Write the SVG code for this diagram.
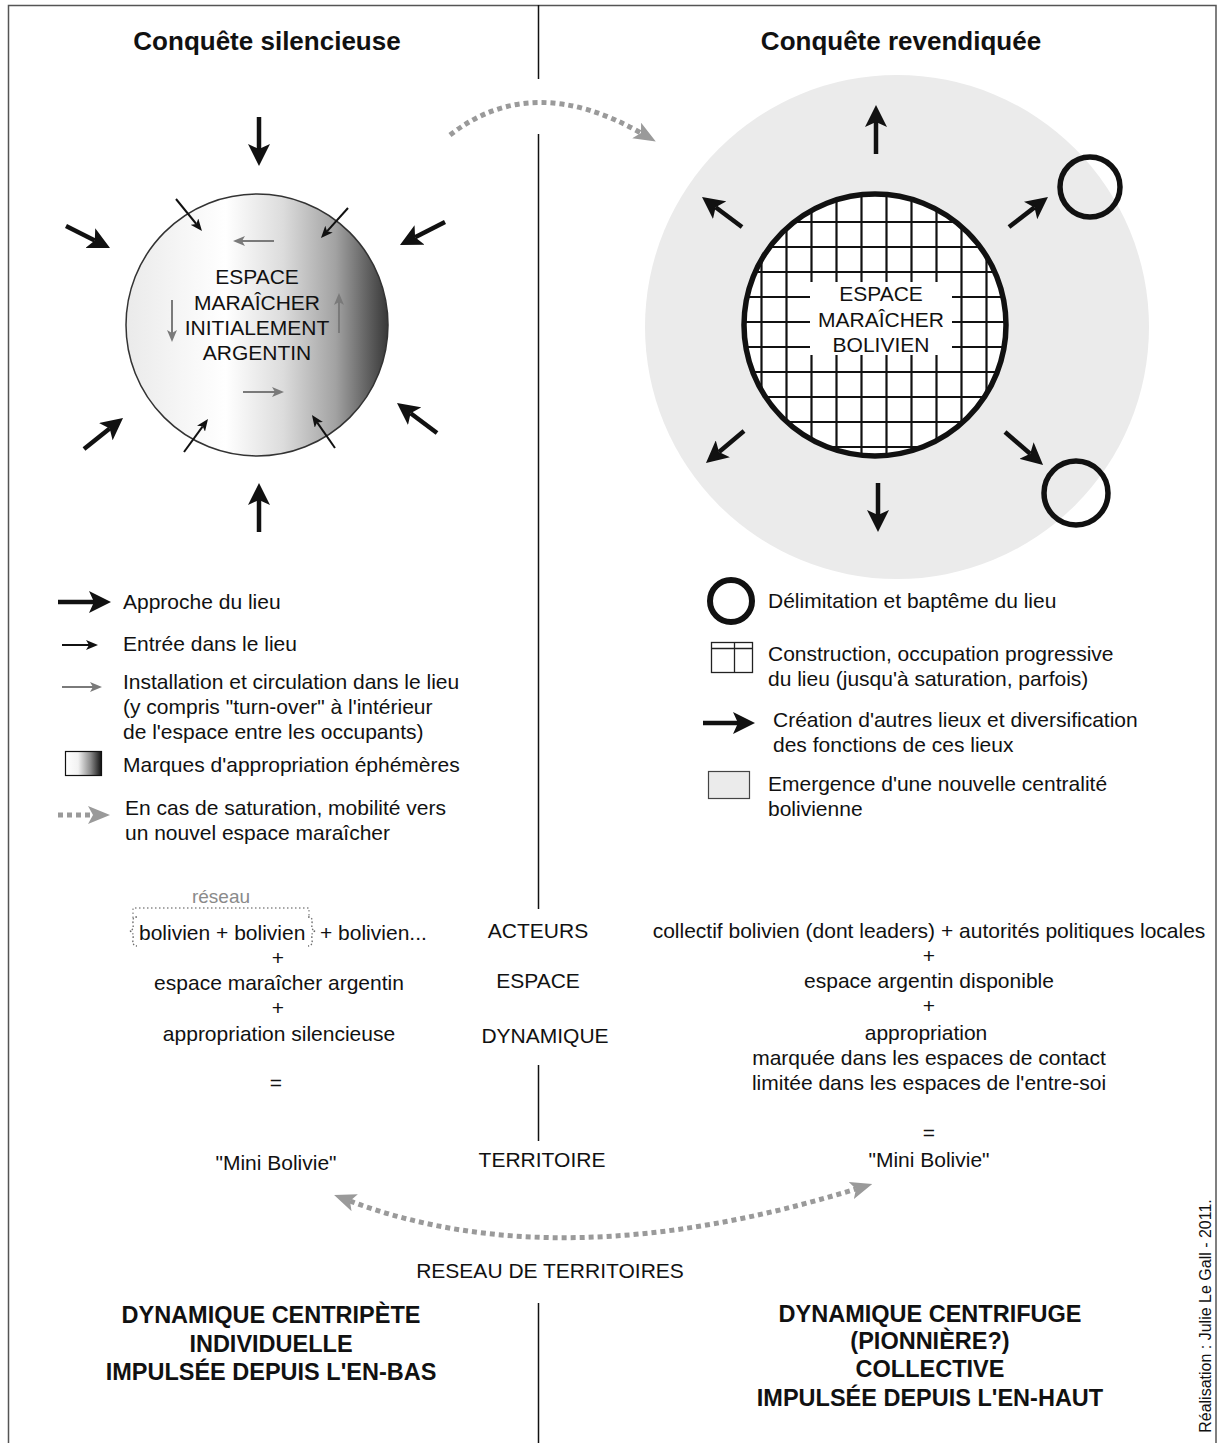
<svg xmlns="http://www.w3.org/2000/svg" width="1219" height="1443" viewBox="0 0 1219 1443">
<defs>
<style>
text{font-family:"Liberation Sans",Arial,sans-serif;fill:#111}
.t21{font-size:21px}
.c{text-anchor:middle}
.title{font-size:26px;font-weight:bold}
.bold{font-size:23.5px;font-weight:bold}
.thick{stroke:#111;stroke-width:4.5;fill:none;marker-end:url(#mBig)}
.thin{stroke:#111;stroke-width:2;fill:none;marker-end:url(#mThin)}
.gray{stroke:#7a7a7a;stroke-width:2;fill:none;marker-end:url(#mGray)}
.dotted{stroke:#9a9a9a;stroke-width:5;stroke-dasharray:5 4;fill:none}
.grid{stroke:#111;stroke-width:2.2}
.frame{stroke:#555;stroke-width:1.5;fill:none}
.ring{fill:none;stroke:#111;stroke-width:5.5}
</style>
<marker id="mBig" markerUnits="userSpaceOnUse" viewBox="0 0 22 22" markerWidth="22" markerHeight="22" refX="5" refY="11" orient="auto"><path d="M0,0 L22,11 L0,22 L5,11 z" fill="#111"/></marker>
<marker id="mThin" markerUnits="userSpaceOnUse" viewBox="0 0 12 10" markerWidth="12" markerHeight="10" refX="3" refY="5" orient="auto"><path d="M0,0 L12,5 L0,10 L3,5 z" fill="#111"/></marker>
<marker id="mGray" markerUnits="userSpaceOnUse" viewBox="0 0 12 10" markerWidth="12" markerHeight="10" refX="3" refY="5" orient="auto"><path d="M0,0 L12,5 L0,10 L3,5 z" fill="#7a7a7a"/></marker>
<marker id="mDot" markerUnits="userSpaceOnUse" viewBox="0 0 22 18" markerWidth="22" markerHeight="18" refX="5" refY="9" orient="auto-start-reverse"><path d="M0,0 L22,9 L0,18 L5,9 z" fill="#9a9a9a"/></marker>
<linearGradient id="gSilent" x1="0" y1="0" x2="1" y2="0">
<stop offset="0" stop-color="#eaeaea"/><stop offset="0.38" stop-color="#ffffff"/><stop offset="0.6" stop-color="#dcdcdc"/><stop offset="0.8" stop-color="#a2a2a2"/><stop offset="1" stop-color="#383838"/>
</linearGradient>
<linearGradient id="gSwatch" x1="0" y1="0" x2="1" y2="0">
<stop offset="0" stop-color="#ffffff"/><stop offset="0.35" stop-color="#f2f2f2"/><stop offset="0.7" stop-color="#8a8a8a"/><stop offset="1" stop-color="#111"/>
</linearGradient>
<clipPath id="gridClip"><circle cx="875" cy="325" r="131"/></clipPath>
</defs>

<rect x="0" y="0" width="1219" height="1443" fill="#fff"/>

<g id="frame">
<path class="frame" d="M8.5,1443 L8.5,5.5 L1216,5.5 L1216,1443"/>
<path stroke="#111" stroke-width="1.5" fill="none" d="M538.5,5 V79 M538.5,134 V909 M538.5,1065 V1141 M538.5,1303 V1443"/>
</g>

<g id="titles">
<text class="title c" x="267" y="50">Conquête silencieuse</text>
<text class="title c" x="901" y="50">Conquête revendiquée</text>
</g>

<g id="centrality">
<circle cx="897" cy="327" r="252" fill="#ebebeb"/>
</g>

<g id="silent-space">
<circle cx="257" cy="325" r="131" fill="url(#gSilent)" stroke="#333" stroke-width="1.5"/>
<text class="t21 c" x="257" y="284">ESPACE</text>
<text class="t21 c" x="257" y="310">MARAÎCHER</text>
<text class="t21 c" x="257" y="335">INITIALEMENT</text>
<text class="t21 c" x="257" y="360">ARGENTIN</text>
</g>

<g id="bolivian-space">
<circle cx="875" cy="325" r="131" fill="#fff"/>
<g clip-path="url(#gridClip)" class="grid">
<path d="M761.5,190 V462 M786.5,190 V462 M811.5,190 V462 M836.5,190 V462 M861.5,190 V462 M886.5,190 V462 M911.5,190 V462 M936.5,190 V462 M961.5,190 V462 M986.5,190 V462"/>
<path d="M740,222 H1010 M740,247 H1010 M740,272 H1010 M740,297 H1010 M740,322 H1010 M740,347 H1010 M740,372 H1010 M740,397 H1010 M740,422 H1010 M740,447 H1010"/>
</g>
<rect x="810" y="282" width="142" height="73" fill="#fff"/>
<circle class="ring" cx="875" cy="325" r="131"/>
<text class="t21 c" x="881" y="301">ESPACE</text>
<text class="t21 c" x="881" y="327">MARAÎCHER</text>
<text class="t21 c" x="881" y="352">BOLIVIEN</text>
</g>

<g id="place-1"><circle class="ring" cx="1090" cy="187" r="30"/></g>
<g id="place-2"><circle class="ring" cx="1076" cy="493" r="32"/></g>

<g id="connectors">
<!-- approach arrows -->
<line class="thick" x1="259" y1="117" x2="259" y2="149"/>
<line class="thick" x1="259" y1="532" x2="259" y2="500"/>
<line class="thick" x1="66" y1="226" x2="94.8" y2="240.4"/>
<line class="thick" x1="445" y1="222" x2="415.1" y2="237.3"/>
<line class="thick" x1="84" y1="449" x2="109.7" y2="428.6"/>
<line class="thick" x1="437" y1="433" x2="410.6" y2="413.2"/>
<!-- entry arrows -->
<line class="thin" x1="176" y1="199" x2="196.3" y2="224"/>
<line class="thin" x1="348" y1="208" x2="327" y2="231.3"/>
<line class="thin" x1="184" y1="452" x2="202.7" y2="426.3"/>
<line class="thin" x1="335" y1="448" x2="317.1" y2="422.4"/>
<!-- circulation arrows -->
<line class="gray" x1="274" y1="241" x2="242" y2="241"/>
<line class="gray" x1="172" y1="300" x2="172" y2="333"/>
<line class="gray" x1="339" y1="333" x2="339" y2="302"/>
<line class="gray" x1="243" y1="392" x2="275" y2="392"/>
<!-- creation arrows -->
<line class="thick" x1="876" y1="154" x2="876" y2="122"/>
<line class="thick" x1="878" y1="483" x2="878" y2="515"/>
<line class="thick" x1="742" y1="227" x2="715.6" y2="207.2"/>
<line class="thick" x1="1009" y1="227" x2="1034.5" y2="207.4"/>
<line class="thick" x1="744" y1="431" x2="719" y2="452"/>
<line class="thick" x1="1005" y1="432" x2="1030.2" y2="453.8"/>
<!-- mobility -->
<path class="dotted" marker-end="url(#mDot)" d="M450,135 Q532,71 641,133"/>
<path class="dotted" marker-start="url(#mDot)" marker-end="url(#mDot)" d="M350,1201 Q560,1280 856,1189"/>
</g>

<g id="legend-left">
<line class="thick" x1="58" y1="602" x2="94" y2="602"/>
<text class="t21" x="123" y="609">Approche du lieu</text>
<line class="thin" x1="62" y1="645" x2="89" y2="645"/>
<text class="t21" x="123" y="651">Entrée dans le lieu</text>
<line class="gray" x1="62" y1="687" x2="93" y2="687"/>
<text class="t21" x="123" y="689">Installation et circulation dans le lieu</text>
<text class="t21" x="123" y="714">(y compris "turn-over" à l'intérieur</text>
<text class="t21" x="123" y="739">de l'espace entre les occupants)</text>
<rect x="65.5" y="751.5" width="36" height="24" fill="url(#gSwatch)" stroke="#111" stroke-width="1.2"/>
<text class="t21" x="123" y="772">Marques d'appropriation éphémères</text>
<line class="dotted" marker-end="url(#mDot)" x1="58" y1="815" x2="93" y2="815"/>
<text class="t21" x="125" y="815">En cas de saturation, mobilité vers</text>
<text class="t21" x="125" y="840">un nouvel espace maraîcher</text>
</g>

<g id="legend-right">
<circle cx="731" cy="601" r="21" fill="none" stroke="#111" stroke-width="6"/>
<text class="t21" x="768" y="608">Délimitation et baptême du lieu</text>
<rect x="711.5" y="642.5" width="41" height="30" fill="#fff" stroke="#222" stroke-width="1.3"/>
<path d="M711.5,648.5 H752.5 M734.5,642.5 V672.5" stroke="#222" stroke-width="1.3" fill="none"/>
<text class="t21" x="768" y="661">Construction, occupation progressive</text>
<text class="t21" x="768" y="686">du lieu (jusqu'à saturation, parfois)</text>
<line class="thick" x1="703" y1="723" x2="738" y2="723"/>
<text class="t21" x="773" y="727">Création d'autres lieux et diversification</text>
<text class="t21" x="773" y="752">des fonctions de ces lieux</text>
<rect x="708.5" y="771.5" width="41" height="27" fill="#ebebeb" stroke="#444" stroke-width="1.2"/>
<text class="t21" x="768" y="791">Emergence d'une nouvelle centralité</text>
<text class="t21" x="768" y="816">bolivienne</text>
</g>

<g id="formula-left">
<text class="c" x="221" y="903" style="font-size:19px;fill:#8a8a8a">réseau</text>
<path d="M133,918 V908 H309 V918" stroke="#8a8a8a" stroke-width="1.3" stroke-dasharray="1.5 2.5" fill="none"/>
<path d="M137,917 Q132,917 133,923 Q134,930 130,931 Q134,932 133,939 Q132,946 137,946" stroke="#666" stroke-width="1.3" stroke-dasharray="1.5 2" fill="none"/>
<path d="M308,917 Q313,917 312,923 Q311,930 315,931 Q311,932 312,939 Q313,946 308,946" stroke="#666" stroke-width="1.3" stroke-dasharray="1.5 2" fill="none"/>
<text class="t21" x="139" y="940">bolivien + bolivien</text>
<text class="t21" x="320" y="940">+ bolivien...</text>
<text class="t21 c" x="278" y="965">+</text>
<text class="t21 c" x="279" y="990">espace maraîcher argentin</text>
<text class="t21 c" x="278" y="1015">+</text>
<text class="t21 c" x="279" y="1041">appropriation silencieuse</text>
<text class="t21 c" x="276" y="1090">=</text>
<text class="t21 c" x="276" y="1170">"Mini Bolivie"</text>
</g>

<g id="categories">
<text class="t21 c" x="538" y="938">ACTEURS</text>
<text class="t21 c" x="538" y="988">ESPACE</text>
<text class="t21 c" x="545" y="1043">DYNAMIQUE</text>
<text class="t21 c" x="542" y="1167">TERRITOIRE</text>
<text class="t21 c" x="550" y="1278">RESEAU DE TERRITOIRES</text>
</g>

<g id="formula-right">
<text class="t21 c" x="929" y="938">collectif bolivien (dont leaders) + autorités politiques locales</text>
<text class="t21 c" x="929" y="963">+</text>
<text class="t21 c" x="929" y="988">espace argentin disponible</text>
<text class="t21 c" x="929" y="1013">+</text>
<text class="t21 c" x="926" y="1040">appropriation</text>
<text class="t21 c" x="929" y="1065">marquée dans les espaces de contact</text>
<text class="t21 c" x="929" y="1090">limitée dans les espaces de l'entre-soi</text>
<text class="t21 c" x="929" y="1140">=</text>
<text class="t21 c" x="929" y="1167">"Mini Bolivie"</text>
</g>

<g id="dynamics-left">
<text class="bold c" x="271" y="1323">DYNAMIQUE CENTRIPÈTE</text>
<text class="bold c" x="271" y="1352">INDIVIDUELLE</text>
<text class="bold c" x="271" y="1380">IMPULSÉE DEPUIS L'EN-BAS</text>
</g>

<g id="dynamics-right">
<text class="bold c" x="930" y="1322">DYNAMIQUE CENTRIFUGE</text>
<text class="bold c" x="930" y="1349">(PIONNIÈRE?)</text>
<text class="bold c" x="930" y="1377">COLLECTIVE</text>
<text class="bold c" x="930" y="1406">IMPULSÉE DEPUIS L'EN-HAUT</text>
</g>

<g id="credit">
<text transform="translate(1211,1316) rotate(-90)" class="c" style="font-size:16px">Réalisation : Julie Le Gall - 2011.</text>
</g>
</svg>
